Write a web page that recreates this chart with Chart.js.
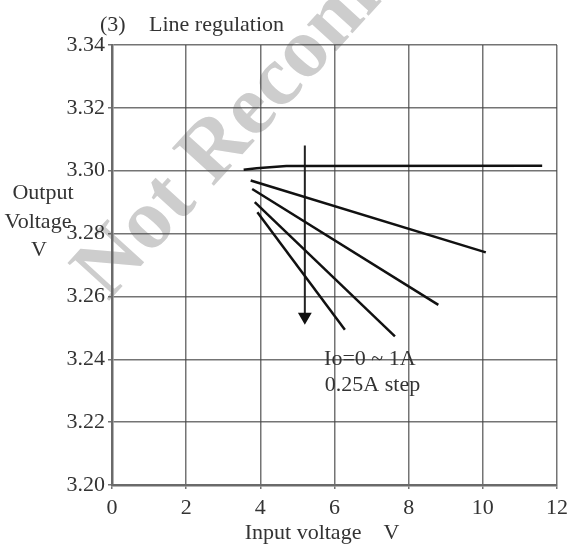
<!DOCTYPE html>
<html lang="en">
<head>
<meta charset="UTF-8">
<title>Line regulation</title>
<script src="https://cdn.jsdelivr.net/npm/chart.js@4.4.0/dist/chart.umd.min.js"></script>
<style>
    body { margin: 0; background: #fff; }
    #wrap { width: 568px; height: 545px; }
</style>
</head>
<body>
<div id="wrap"><canvas id="myChart" width="568" height="545"></canvas></div>
<script>
    // output voltage vs input voltage, Io = 0 ~ 1A in 0.25A steps
    const loadLabels = ['Io=0A', 'Io=0.25A', 'Io=0.5A', 'Io=0.75A', 'Io=1A'];
    const vinValues = [
        [3.55, 3.9, 4.7, 11.6],
        [3.74, 10.08],
        [3.78, 8.80],
        [3.85, 7.63],
        [3.92, 6.28]
    ];
    const voutValues = [
        [3.3003, 3.3008, 3.3015, 3.3016],
        [3.2969, 3.2740],
        [3.2942, 3.2573],
        [3.2900, 3.2473],
        [3.2868, 3.2494]
    ];
    // arrow (load increasing)
    const arrowX = [5.2, 5.2];
    const arrowY = [3.308, 3.2535];

    const xTicks = [0, 2, 4, 6, 8, 10, 12];
    const yTicks = [3.20, 3.22, 3.24, 3.26, 3.28, 3.30, 3.32, 3.34];

    const SERIF = "'Liberation Serif', 'Times New Roman', serif";
    const INK = '#333';

    let datasets = [];
    for (let i = 0; i < loadLabels.length; i++) {
        datasets.push({
            label: loadLabels[i],
            data: vinValues[i].map((x, j) => ({ x: x, y: voutValues[i][j] })),
            showLine: true,
            borderColor: '#111',
            borderWidth: 2.5,
            pointRadius: 0,
            tension: 0
        });
    }
    datasets.push({
        label: 'arrow',
        data: arrowX.map((x, j) => ({ x: x, y: arrowY[j] })),
        showLine: true,
        borderColor: '#222',
        borderWidth: 2,
        pointRadius: [0, 6],
        pointStyle: 'triangle',
        rotation: 180,
        pointBackgroundColor: '#111',
        pointBorderColor: '#111'
    });

    function text(ctx, str, x, y, size, align) {
        ctx.font = size + 'px ' + SERIF;
        ctx.fillStyle = INK;
        ctx.textAlign = align || 'left';
        ctx.textBaseline = 'middle';
        ctx.fillText(str, x, y);
    }

    const textPlugin = {
        id: 'textPlugin',
        beforeDraw(chart) {
            // grey watermark underneath everything
            const ctx = chart.ctx;
            ctx.save();
            ctx.translate(108, 302);
            ctx.rotate(-47.7 * Math.PI / 180);
            ctx.font = 'bold 86px ' + SERIF;
            ctx.fillStyle = '#cdcdcd';
            ctx.textAlign = 'left';
            ctx.textBaseline = 'alphabetic';
            ctx.fillText('Not Recommended', 0, 0);
            ctx.restore();
        },
        afterDraw(chart) {
            const ctx = chart.ctx;
            const sx = chart.scales.x, sy = chart.scales.y;
            ctx.save();
            text(ctx, '(3)', 100, 25, 22);
            text(ctx, 'Line regulation', 149, 25, 22);
            text(ctx, 'Output', 43, 193, 22, 'center');
            text(ctx, 'Voltage', 38, 222, 22, 'center');
            text(ctx, 'V', 39, 250, 22, 'center');
            text(ctx, 'Input voltage    V', 322, 533, 22, 'center');
            text(ctx, 'Io=0 ~ 1A', sx.getPixelForValue(5.72), sy.getPixelForValue(3.24), 22);
            text(ctx, '0.25A step', sx.getPixelForValue(5.74), sy.getPixelForValue(3.2318), 22);
            ctx.restore();
        }
    };

    const gridStyle = { color: 'rgba(70,70,70,0.75)', lineWidth: 1.5, tickLength: 4 };
    const borderStyle = { color: '#6a6a6a', width: 2.5 };

    new Chart(document.getElementById('myChart'), {
        type: 'scatter',
        data: { datasets: datasets },
        plugins: [textPlugin],
        options: {
            responsive: false,
            animation: false,
            devicePixelRatio: 1,
            layout: { padding: { left: 0, top: 45, right: 11, bottom: 0 } },
            plugins: {
                legend: { display: false },
                tooltip: { enabled: false }
            },
            scales: {
                x: {
                    type: 'linear',
                    min: 0, max: 12,
                    afterBuildTicks: (axis) => { axis.ticks = xTicks.map(v => ({ value: v })); },
                    afterFit: (axis) => {
                        axis.height = 60;
                        axis.paddingLeft = 0;
                        axis.paddingRight = 0;
                    },
                    grid: gridStyle,
                    border: borderStyle,
                    ticks: {
                        padding: 6,
                        maxRotation: 0,
                        color: INK,
                        font: { family: SERIF, size: 22 }
                    }
                },
                y: {
                    type: 'linear',
                    min: 3.20, max: 3.34,
                    afterBuildTicks: (axis) => { axis.ticks = yTicks.map(v => ({ value: v })); },
                    afterFit: (axis) => {
                        axis.width = 112;
                        axis.paddingTop = 0;
                        axis.paddingBottom = 0;
                    },
                    grid: gridStyle,
                    border: borderStyle,
                    ticks: {
                        padding: 3,
                        color: INK,
                        font: { family: SERIF, size: 22 },
                        callback: (v) => Number(v).toFixed(2)
                    }
                }
            }
        }
    });
</script>
</body>
</html>
